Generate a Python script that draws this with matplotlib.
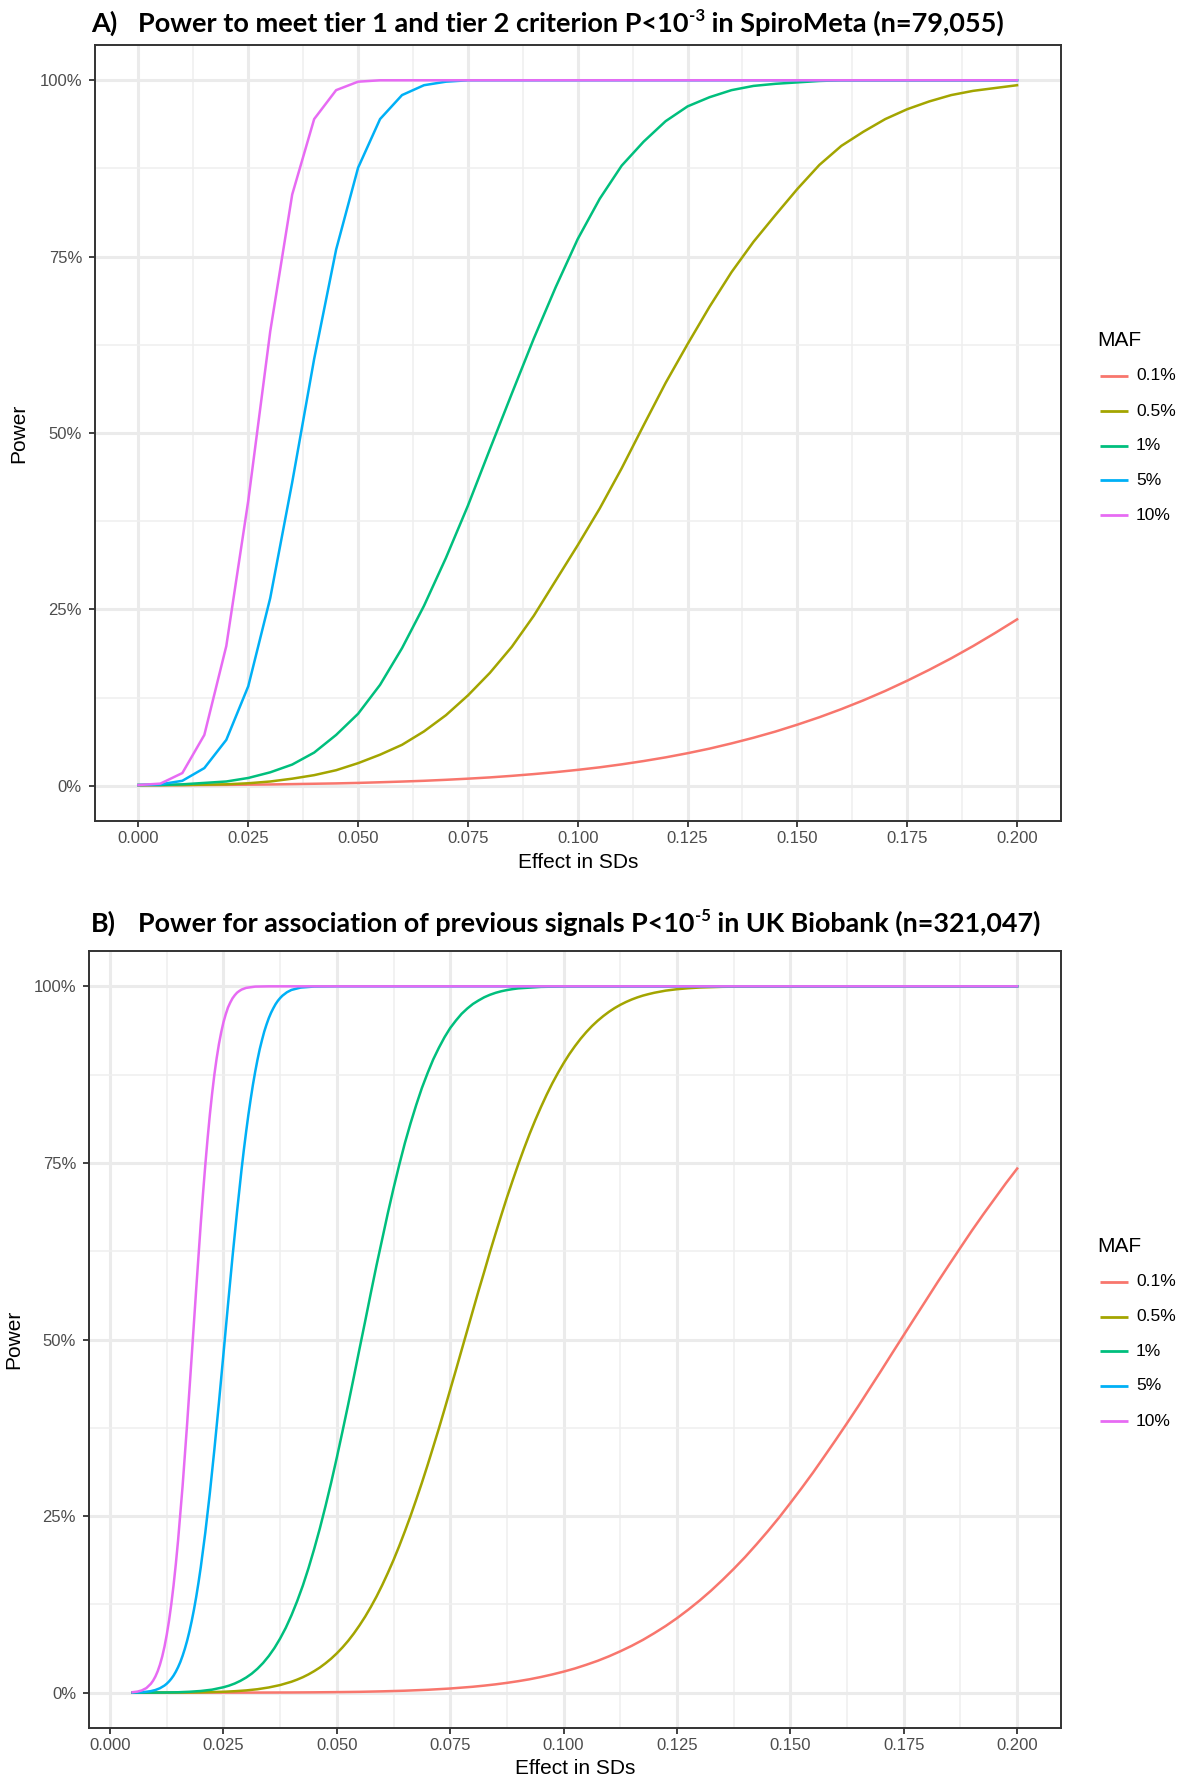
import matplotlib
matplotlib.use("Agg")
import matplotlib.pyplot as plt
from matplotlib.lines import Line2D
from matplotlib.transforms import IdentityTransform

# ---------------- data ----------------
maf_labels = ["0.1%", "0.5%", "1%", "5%", "10%"]
maf_colors = ["#F8766D", "#A3A500", "#00BF7D", "#00B0F6", "#E76BF3"]

x_tick_labels = ["0.000", "0.025", "0.050", "0.075", "0.100", "0.125", "0.150", "0.175", "0.200"]
y_tick_labels = ["0%", "25%", "50%", "75%", "100%"]

title_a_parts = [("Power to meet tier 1 and tier 2 criterion P<10", 1.0, 0.0),
                 ("-3", 0.62, 0.40),
                 (" in SpiroMeta (n=79,055)", 1.0, 0.0)]
title_b_parts = [("Power for association of previous signals P<10", 1.0, 0.0),
                 ("-5", 0.62, 0.40),
                 (" in UK Biobank (n=321,047)", 1.0, 0.0)]

# Panel A (SpiroMeta), effect sizes every 0.005
effect_a = [0.000, 0.005, 0.010, 0.015, 0.020, 0.025, 0.030, 0.035, 0.040, 0.045,
            0.050, 0.055, 0.060, 0.065, 0.070, 0.075, 0.080, 0.085, 0.090, 0.095,
            0.100, 0.105, 0.110, 0.115, 0.120, 0.125, 0.130, 0.135, 0.140, 0.145,
            0.150, 0.155, 0.160, 0.165, 0.170, 0.175, 0.180, 0.185, 0.190, 0.195, 0.200]
power_a_01 = [0.0005, 0.0006, 0.0008, 0.0010, 0.0012, 0.0015, 0.0018, 0.0023, 0.0028, 0.0033,
              0.0040, 0.0049, 0.0059, 0.0070, 0.0084, 0.0100, 0.0118, 0.0140, 0.0165, 0.0193,
              0.0225, 0.0261, 0.0303, 0.0350, 0.0402, 0.0461, 0.0526, 0.0600, 0.0680, 0.0768,
              0.0866, 0.0971, 0.1086, 0.1210, 0.1344, 0.1489, 0.1643, 0.1806, 0.1980, 0.2165, 0.2358]
power_a_05 = [0.001, 0.001, 0.001, 0.0015, 0.002, 0.0035, 0.006, 0.010, 0.015, 0.022,
              0.032, 0.044, 0.058, 0.077, 0.100, 0.128, 0.160, 0.197, 0.241, 0.291,
              0.341, 0.393, 0.450, 0.511, 0.571, 0.626, 0.679, 0.728, 0.771, 0.809,
              0.846, 0.880, 0.907, 0.927, 0.945, 0.959, 0.970, 0.979, 0.985, 0.989, 0.993]
power_a_1 = [0.001, 0.001, 0.002, 0.004, 0.006, 0.011, 0.019, 0.030, 0.047, 0.072,
             0.102, 0.143, 0.195, 0.255, 0.323, 0.397, 0.477, 0.556, 0.634, 0.707,
             0.775, 0.832, 0.879, 0.913, 0.942, 0.963, 0.976, 0.986, 0.992, 0.995,
             0.997, 0.999, 1.0, 1.0, 1.0, 1.0, 1.0, 1.0, 1.0, 1.0, 1.0]
power_a_5 = [0.001, 0.002, 0.007, 0.025, 0.065, 0.141, 0.266, 0.430, 0.605, 0.760,
             0.876, 0.945, 0.979, 0.993, 0.998, 1.0, 1.0, 1.0, 1.0, 1.0,
             1.0, 1.0, 1.0, 1.0, 1.0, 1.0, 1.0, 1.0, 1.0, 1.0,
             1.0, 1.0, 1.0, 1.0, 1.0, 1.0, 1.0, 1.0, 1.0, 1.0, 1.0]
power_a_10 = [0.001, 0.003, 0.018, 0.072, 0.198, 0.404, 0.644, 0.838, 0.945, 0.986,
              0.998, 1.0, 1.0, 1.0, 1.0, 1.0, 1.0, 1.0, 1.0, 1.0,
              1.0, 1.0, 1.0, 1.0, 1.0, 1.0, 1.0, 1.0, 1.0, 1.0,
              1.0, 1.0, 1.0, 1.0, 1.0, 1.0, 1.0, 1.0, 1.0, 1.0, 1.0]

# Panel B (UK Biobank), each curve read at its own effect sizes
effect_b_01 = [0.005, 0.010, 0.015, 0.020, 0.025, 0.030, 0.035, 0.040, 0.045, 0.050,
               0.055, 0.060, 0.065, 0.070, 0.075, 0.080,
               0.0825, 0.0850, 0.0875, 0.0900, 0.0925, 0.0950, 0.0975, 0.1000,
               0.1025, 0.1050, 0.1075, 0.1100, 0.1125, 0.1150, 0.1175, 0.1200,
               0.1225, 0.1250, 0.1275, 0.1300, 0.1325, 0.1350, 0.1375, 0.1400,
               0.1425, 0.1450, 0.1475, 0.1500, 0.1525, 0.1550, 0.1575, 0.1600,
               0.1625, 0.1650, 0.1675, 0.1700, 0.1725, 0.1750, 0.1775, 0.1800,
               0.1825, 0.1850, 0.1875, 0.1900, 0.1925, 0.1950, 0.1975, 0.2000]
power_b_01 = [0.0000, 0.0000, 0.0000, 0.0001, 0.0001, 0.0001, 0.0002, 0.0003, 0.0005, 0.0008,
              0.0012, 0.0019, 0.0028, 0.0041, 0.0059, 0.0084,
              0.0100, 0.0118, 0.0139, 0.0163, 0.0190, 0.0222, 0.0258, 0.0298,
              0.0343, 0.0395, 0.0451, 0.0515, 0.0586, 0.0663, 0.0748, 0.0843,
              0.0944, 0.1055, 0.1176, 0.1305, 0.1444, 0.1594, 0.1752, 0.1919,
              0.2098, 0.2284, 0.2479, 0.2686, 0.2898, 0.3117, 0.3347, 0.3579,
              0.3817, 0.4059, 0.4309, 0.4558, 0.4812, 0.5064, 0.5315, 0.5565,
              0.5816, 0.6060, 0.6301, 0.6540, 0.6769, 0.6990, 0.7211, 0.7420]

effect_b_05 = [0.005, 0.010, 0.015, 0.020, 0.025, 0.0275, 0.0300, 0.0325, 0.0350, 0.0375,
               0.04000, 0.04125, 0.04250, 0.04375, 0.04500, 0.04625, 0.04750, 0.04875,
               0.05000, 0.05125, 0.05250, 0.05375, 0.05500, 0.05625, 0.05750, 0.05875,
               0.06000, 0.06125, 0.06250, 0.06375, 0.06500, 0.06625, 0.06750, 0.06875,
               0.07000, 0.07125, 0.07250, 0.07375, 0.07500, 0.07625, 0.07750, 0.07875,
               0.08000, 0.08125, 0.08250, 0.08375, 0.08500, 0.08625, 0.08750, 0.08875,
               0.09000, 0.09125, 0.09250, 0.09375, 0.09500, 0.09625, 0.09750, 0.09875,
               0.10000, 0.10125, 0.10250, 0.10375, 0.10500, 0.10625, 0.10750, 0.10875,
               0.11000, 0.11125, 0.11250, 0.11375, 0.11500, 0.11625, 0.11750, 0.11875,
               0.1200, 0.1225, 0.1250, 0.1275, 0.1300, 0.1350, 0.1400, 0.1500, 0.2000]
power_b_05 = [0.0000, 0.0001, 0.0002, 0.0005, 0.0013, 0.0021, 0.0032, 0.0049, 0.0074, 0.0108,
              0.0155, 0.0185, 0.0219, 0.0259, 0.0305, 0.0356, 0.0416, 0.0482,
              0.0557, 0.0641, 0.0734, 0.0838, 0.0953, 0.1077, 0.1214, 0.1361,
              0.1522, 0.1695, 0.1878, 0.2075, 0.2284, 0.2502, 0.2733, 0.2971,
              0.3220, 0.3479, 0.3741, 0.4013, 0.4290, 0.4566, 0.4848, 0.5128,
              0.5410, 0.5690, 0.5960, 0.6236, 0.6500, 0.6758, 0.7010, 0.7248,
              0.7480, 0.7700, 0.7910, 0.8106, 0.8290, 0.8464, 0.8626, 0.8774,
              0.8912, 0.9039, 0.9153, 0.9258, 0.9352, 0.9437, 0.9512, 0.9579,
              0.9639, 0.9692, 0.9738, 0.9778, 0.9813, 0.9843, 0.9869, 0.9890,
              0.9909, 0.9939, 0.9959, 0.9973, 0.9983, 0.9993, 0.9997, 1.0, 1.0]

effect_b_1 = [0.0050, 0.0075, 0.0100, 0.0125, 0.0150, 0.0175, 0.0200, 0.0225,
              0.02500, 0.02625, 0.02750, 0.02875, 0.03000, 0.03125, 0.03250, 0.03375,
              0.03500, 0.03625, 0.03750, 0.03875, 0.04000, 0.04125, 0.04250, 0.04375,
              0.04500, 0.04625, 0.04750, 0.04875, 0.05000, 0.05125, 0.05250, 0.05375,
              0.05500, 0.05625, 0.05750, 0.05875, 0.06000, 0.06125, 0.06250, 0.06375,
              0.06500, 0.06625, 0.06750, 0.06875, 0.07000, 0.07125, 0.07250, 0.07375,
              0.07500, 0.07625, 0.07750, 0.07875, 0.08000, 0.08125, 0.08250, 0.08375,
              0.08500, 0.08625, 0.08750, 0.08875, 0.09000,
              0.095, 0.100, 0.105, 0.200]
power_b_1 = [0.0000, 0.0001, 0.0002, 0.0003, 0.0006, 0.0013, 0.0024, 0.0043,
             0.0077, 0.0100, 0.0130, 0.0168, 0.0214, 0.0270, 0.0339, 0.0421,
             0.0519, 0.0633, 0.0767, 0.0919, 0.1096, 0.1295, 0.1515, 0.1762,
             0.2033, 0.2324, 0.2640, 0.2974, 0.3329, 0.3700, 0.4079, 0.4470,
             0.4868, 0.5260, 0.5660, 0.6050, 0.6420, 0.6790, 0.7140, 0.7470,
             0.7780, 0.8060, 0.8320, 0.8560, 0.8770, 0.8965, 0.9130, 0.9280,
             0.9410, 0.9515, 0.9610, 0.9685, 0.9750, 0.9800, 0.9845, 0.9880,
             0.9908, 0.9930, 0.9947, 0.9960, 0.9971,
             0.9992, 0.9998, 1.0, 1.0]

effect_b_5 = [0.005, 0.006, 0.007, 0.008, 0.009, 0.010, 0.011, 0.012,
              0.0125, 0.0130, 0.0135, 0.0140, 0.0145, 0.0150, 0.0155, 0.0160,
              0.0165, 0.0170, 0.0175, 0.0180, 0.0185, 0.0190, 0.0195, 0.0200,
              0.021, 0.022, 0.023, 0.024, 0.025, 0.026, 0.027, 0.028, 0.029,
              0.0295, 0.0300, 0.0305, 0.0310, 0.0315, 0.0320, 0.0325, 0.0330,
              0.0335, 0.0340, 0.0345, 0.0350, 0.0355, 0.0360, 0.0365, 0.0370,
              0.0375, 0.038, 0.039, 0.040, 0.042, 0.045, 0.050, 0.200]
power_b_5 = [0.0002, 0.0004, 0.0007, 0.0013, 0.0022, 0.0038, 0.0063, 0.0101,
             0.0127, 0.0159, 0.0197, 0.0242, 0.0297, 0.0361, 0.0435, 0.0523,
             0.0623, 0.0737, 0.0867, 0.1013, 0.1176, 0.1357, 0.1558, 0.1775,
             0.2266, 0.2823, 0.3442, 0.4102, 0.4793, 0.5490, 0.6170, 0.6810, 0.7410,
             0.7685, 0.7940, 0.8181, 0.8400, 0.8606, 0.8790, 0.8958, 0.9110,
             0.9239, 0.9360, 0.9460, 0.9550, 0.9626, 0.9690, 0.9748, 0.9795,
             0.9834, 0.9867, 0.9916, 0.9949, 0.9982, 0.9997, 1.0, 1.0]

effect_b_10 = [0.005, 0.006, 0.007, 0.008, 0.009,
               0.0095, 0.0100, 0.0105, 0.0110, 0.0115, 0.0120, 0.0125, 0.0130,
               0.0135, 0.0140, 0.0145, 0.0150,
               0.016, 0.017, 0.018, 0.019, 0.020,
               0.0205, 0.0210, 0.0215, 0.0220, 0.0225, 0.0230, 0.0235, 0.0240,
               0.0245, 0.0250, 0.0255, 0.0260, 0.0265, 0.0270, 0.0275, 0.0280,
               0.0285, 0.0290, 0.030, 0.032, 0.035, 0.200]
power_b_10 = [0.0007, 0.0015, 0.0032, 0.0065, 0.0126,
              0.0171, 0.0229, 0.0303, 0.0396, 0.0511, 0.0651, 0.0820, 0.1019,
              0.1251, 0.1518, 0.1819, 0.2157,
              0.2929, 0.3810, 0.4760, 0.5720, 0.6640,
              0.7068, 0.7470, 0.7841, 0.8180, 0.8480, 0.8750, 0.8980, 0.9180,
              0.9347, 0.9490, 0.9603, 0.9700, 0.9770, 0.9830, 0.9874, 0.9910,
              0.9934, 0.9954, 0.9978, 0.9996, 1.0, 1.0]

series_a = [(effect_a, power_a_01), (effect_a, power_a_05), (effect_a, power_a_1),
            (effect_a, power_a_5), (effect_a, power_a_10)]
series_b = [(effect_b_01, power_b_01), (effect_b_05, power_b_05), (effect_b_1, power_b_1),
            (effect_b_5, power_b_5), (effect_b_10, power_b_10)]

# ---------------- figure ----------------
W, H = 1184, 1780
fig = plt.figure(figsize=(W / 100, H / 100), dpi=100)
fig.patch.set_facecolor("white")
ID = IdentityTransform()
AX_FONT = ["Liberation Sans", "DejaVu Sans"]
TITLE_FONT = ["Lato", "DejaVu Sans"]


def px_axes(left, top, right, bottom):
    return fig.add_axes([left / W, 1 - bottom / H, (right - left) / W, (bottom - top) / H])


def style_axes(ax, xlim):
    ax.set_xlim(*xlim)
    ax.set_ylim(-0.05, 1.05)
    ax.set_xticks([0.0, 0.025, 0.05, 0.075, 0.1, 0.125, 0.15, 0.175, 0.2])
    ax.set_xticklabels(x_tick_labels)
    ax.set_xticks([0.0125, 0.0375, 0.0625, 0.0875, 0.1125, 0.1375, 0.1625, 0.1875], minor=True)
    ax.set_yticks([0.0, 0.25, 0.5, 0.75, 1.0])
    ax.set_yticklabels(y_tick_labels)
    ax.set_yticks([0.125, 0.375, 0.625, 0.875], minor=True)
    ax.set_axisbelow(True)
    ax.grid(which="major", color="#EBEBEB", lw=2.2)
    ax.grid(which="minor", color="#EFEFEF", lw=1.1)
    for sp in ax.spines.values():
        sp.set_color("#333333")
        sp.set_linewidth(1.4)
    ax.tick_params(which="major", length=4, width=1.3, color="#333333",
                   labelsize=12, labelcolor="#4D4D4D")
    ax.tick_params(axis="y", which="major", pad=5)
    ax.tick_params(axis="x", which="major", pad=3)
    ax.tick_params(which="minor", length=0)
    for lab in ax.get_xticklabels() + ax.get_yticklabels():
        lab.set_fontfamily(AX_FONT)


def draw_title(label, parts, baseline_from_top, target_right, x_label=91, x_text=138.5):
    renderer = fig.canvas.get_renderer()

    def layout(size):
        x = x_text
        arts = []
        for s, rel, rise in parts:
            t = fig.text(x, H - baseline_from_top + rise * size * 100 / 72, s,
                         fontsize=size * rel, fontweight="bold", family=TITLE_FONT,
                         ha="left", va="baseline", transform=ID)
            x += t.get_window_extent(renderer).width
            arts.append(t)
        return x, arts

    base = 18.0
    right, arts = layout(base)
    for a in arts:
        a.remove()
    size = base * (target_right - x_text) / (right - x_text)
    layout(size)
    fig.text(x_label, H - baseline_from_top, label, fontsize=size, fontweight="bold",
             family=TITLE_FONT, ha="left", va="baseline", transform=ID)


def draw_legend(title_y, rows_y):
    fig.text(1097, H - title_y, "MAF", fontsize=15, family=AX_FONT, color="black",
             ha="left", va="center", transform=ID)
    for lab, col, y in zip(maf_labels, maf_colors, rows_y):
        fig.add_artist(Line2D([1100, 1128], [H - y, H - y], color=col, lw=2.0,
                              transform=ID, solid_capstyle="butt"))
        fig.text(1136, H - y, lab, fontsize=12.5, family=AX_FONT, color="black",
                 ha="left", va="center", transform=ID)


panels = [
    dict(box=(94.5, 45, 1061, 821), xlim=(-0.01, 0.21), series=series_a,
         ylab_x=-0.078, xlab_y=-0.054, title=("A)", title_a_parts, 32, 1006),
         legend=(340.6, [375.8, 411.0, 445.5, 480.2, 515.4])),
    dict(box=(88.5, 951, 1061.4, 1728), xlim=(-0.00475, 0.20975), series=series_b,
         ylab_x=-0.077, xlab_y=-0.0525, title=("B)", title_b_parts, 932, 1043),
         legend=(1246.5, [1281.6, 1316.8, 1351.2, 1386.0, 1421.3])),
]

for p in panels:
    ax = px_axes(*p["box"])
    style_axes(ax, p["xlim"])
    for (xs, ys), col, lab in zip(p["series"], maf_colors, maf_labels):
        ax.plot(xs, ys, color=col, lw=1.8, label=lab, solid_joinstyle="round")
    ax.set_xlabel("Effect in SDs", fontsize=15, family=AX_FONT, color="black")
    ax.set_ylabel("Power", fontsize=15, family=AX_FONT, color="black")
    ax.xaxis.set_label_coords(0.5, p["xlab_y"])
    ax.xaxis.label.set_verticalalignment("center")
    ax.yaxis.set_label_coords(p["ylab_x"], 0.5)
    ax.yaxis.label.set_verticalalignment("center")
    label, parts, base_y, right = p["title"]
    draw_title(label, parts, base_y, right)
    draw_legend(*p["legend"])

fig.savefig("out.png", dpi=100, facecolor="white")
